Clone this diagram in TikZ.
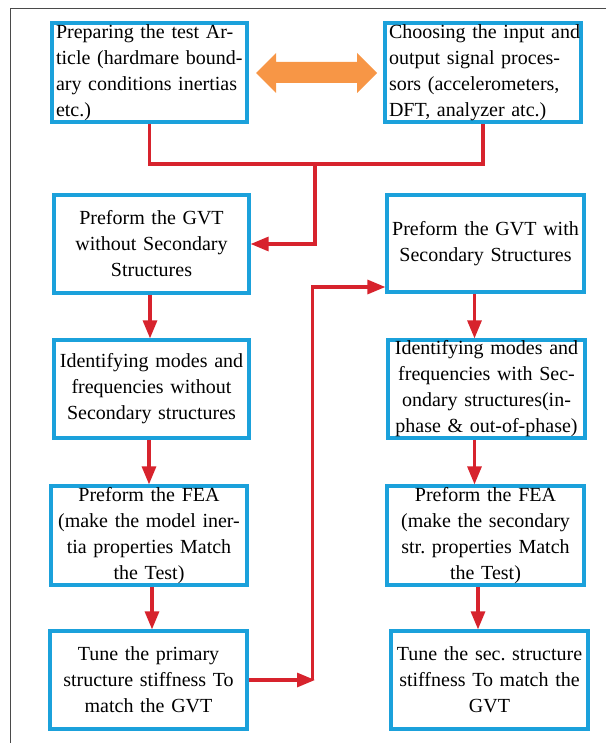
\documentclass[tikz,border=0pt]{standalone}
\usepackage{fontspec}
\setmainfont{Liberation Serif}
\usetikzlibrary{arrows.meta}
\definecolor{boxblue}{HTML}{1BA1DB}
\definecolor{linered}{HTML}{D7232D}
\definecolor{arrorange}{HTML}{F79646}
\definecolor{framegray}{HTML}{4A4A4A}
\newcommand{\jline}[2]{\makebox[#1][s]{#2}}
\frenchspacing
\tikzset{
  procbox/.style={draw=boxblue, line width=3.2pt, inner sep=0pt, inner xsep=4pt,
    align=center, font=\fontsize{20}{26}\selectfont},
  arr/.style={draw=linered, line width=3.1pt, -{Triangle[length=18pt,width=14pt]}},
  redline/.style={draw=linered, line width=3.1pt},
  framel/.style={draw=framegray, line width=1.5pt},
}
\begin{document}
\begin{tikzpicture}[x=1pt,y=-1pt]
\useasboundingbox (0,0) rectangle (606,743);
% frame
\coordinate (ftl) at (10.5,8.5);
\coordinate (ftr) at (606,8.5);
\coordinate (fbl) at (10.5,743);
\draw[framel] (ftr) -- (ftl) -- (fbl);

% boxes
\node[procbox, align=left, text width=187pt, minimum height=99pt] (b1) at (149.5,72.5)
 {\jline{187pt}{Preparing the test Ar-}\\\jline{187pt}{ticle (hardmare bound-}\\\jline{187pt}{ary conditions inertias}\\etc.)};
\node[procbox, align=left, text width=188pt, minimum height=99pt] (b2) at (483,72.5)
 {\jline{188pt}{Choosing the input and}\\\jline{188pt}{output signal proces-}\\\jline{188pt}{sors (accelerometers,}\\DFT, analyzer atc.)};
\node[procbox, text width=187pt, minimum height=98pt] (b3) at (151.5,244)
 {Preform the GVT\\without Secondary\\Structures};
\node[procbox, text width=189pt, minimum height=97pt] (b4) at (485.5,243.5)
 {Preform the GVT with\\Secondary Structures};
\node[procbox, text width=187pt, minimum height=98pt] (b5) at (151.5,389)
 {Identifying modes and\\frequencies without\\Secondary structures};
\node[procbox, text width=189pt, minimum height=98pt] (b6) at (486.5,389)
 {Identifying modes and\\frequencies with Sec-\\ondary structures(in-\\phase \& out-of-phase)};
\node[procbox, text width=188pt, minimum height=99pt] (b7) at (149,535.5)
 {Preform the FEA\\(make the model iner-\\tia properties Match\\the Test)};
\node[procbox, text width=189pt, minimum height=99pt] (b8) at (485.5,535.5)
 {Preform the FEA\\(make the secondary\\str. properties Match\\the Test)};
\node[procbox, text width=189pt, minimum height=98pt] (b9) at (148.5,680)
 {Tune the primary\\structure stiffness To\\match the GVT};
\node[procbox, text width=189pt, minimum height=98pt] (b10) at (489.5,680)
 {Tune the sec. structure\\stiffness To match the\\GVT};

% orange double arrow
\fill[arrorange] (256,73) -- (276,53) -- (276,62) -- (357,62) -- (357,53) -- (377,73)
  -- (357,93) -- (357,83) -- (276,83) -- (276,93) -- cycle;

% connectors
\coordinate (j) at (315,164);
\draw[redline] (b1.south) |- (j) -| (b2.south);
\draw[arr] (j) |- (b3.east);

\coordinate (cl1) at (150,0);
\coordinate (cl2) at (149,0);
\coordinate (cl3) at (152,0);
\coordinate (cr1) at (474.5,0);
\coordinate (cr2) at (474.5,0);
\coordinate (cr3) at (478,0);
\draw[arr] (b3.south -| cl1) -- (b5.north -| cl1);
\draw[arr] (b5.south -| cl2) -- (b7.north -| cl2);
\draw[arr] (b7.south -| cl3) -- (b9.north -| cl3);
\draw[arr] (b4.south -| cr1) -- (b6.north -| cr1);
\draw[arr] (b6.south -| cr2) -- (b8.north -| cr2);
\draw[arr] (b8.south -| cr3) -- (b10.north -| cr3);

\coordinate (k) at (315,680);
\draw[arr] (b9.east) -- (k);
\coordinate (m) at (312.5,680);
\coordinate (n) at (312.5,287);
\draw[arr] (m) -- (n) -- (b4.west |- n);
\end{tikzpicture}
\end{document}
